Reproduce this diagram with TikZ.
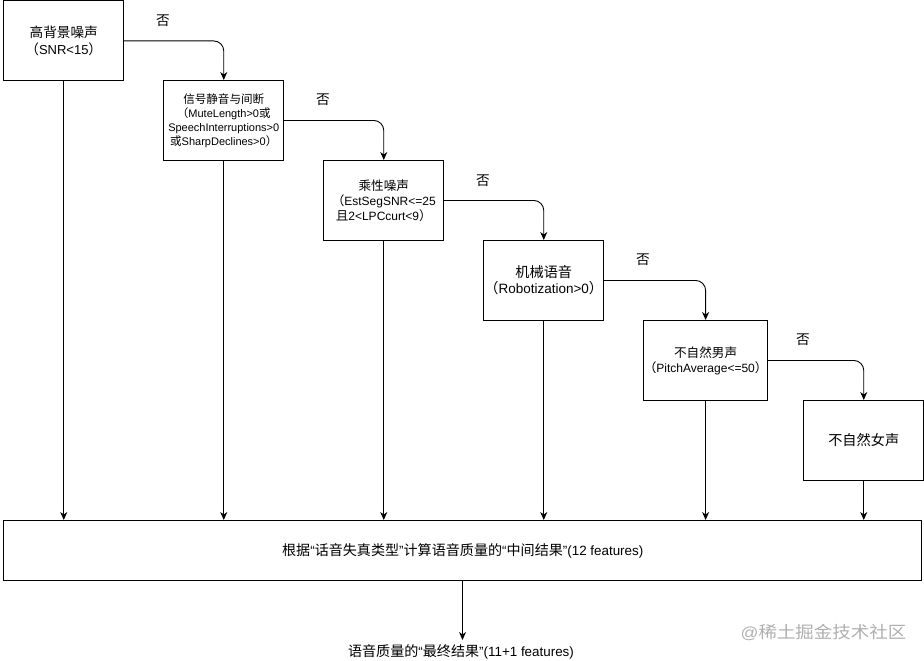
\documentclass[tikz,border=0pt]{standalone}
\usepackage{fontspec}
\setmainfont{Liberation Sans}
\newfontfamily\cjk[Scale=1.05]{Noto Sans CJK SC}
\newcommand\zh[1]{{\cjk #1}}
\usetikzlibrary{arrows.meta}
\definecolor{wmgray}{RGB}{175,175,175}
\tikzset{
  box/.style={draw=black, line width=0.9pt, minimum width=120pt, minimum height=80pt, inner sep=0pt, align=center, anchor=north west},
  arr/.style={draw=black, line width=0.9pt, -{Stealth[length=8pt,width=7pt,inset=2.5pt]}},
  noarr/.style={arr, rounded corners=10pt},
  nolbl/.style={font=\fontsize{13}{15}\selectfont, inner sep=0pt}
}
\begin{document}
\begin{tikzpicture}[x=1pt,y=-1pt]
\useasboundingbox (0,0) rectangle (924,661);
% boxes
\node[box, font=\fontsize{13}{17}\selectfont] (b1) at (3.3,0.5) {\zh{高背景噪声}\\\zh{（}SNR<15\zh{）}};
\node[box, font=\fontsize{11}{14}\selectfont] (b2) at (163.3,80) {\zh{信号静音与间断}\\\zh{（}MuteLength>0\zh{或}\\SpeechInterruptions>0\\\zh{或}SharpDeclines>0\zh{）}};
\node[box, font=\fontsize{12}{15}\selectfont] (b3) at (323.3,160) {\zh{乘性噪声}\\\zh{（}EstSegSNR<=25\\\zh{且}2<LPCcurt<9\zh{）}};
\node[box, font=\fontsize{13.5}{16}\selectfont] (b4) at (483.3,240) {\zh{机械语音}\\\zh{（}Robotization>0\zh{）}};
\node[box, font=\fontsize{12}{15}\selectfont] (b5) at (643.3,320) {\zh{不自然男声}\\\zh{（}PitchAverage<=50\zh{）}};
\node[box, font=\fontsize{13.5}{16}\selectfont] (b6) at (803.3,400) {\zh{不自然女声}};
\node[box, minimum width=918pt, minimum height=60pt, font=\fontsize{13.4}{16}\selectfont] (bot) at (3.3,520) {\zh{根据}“\zh{话音失真类型}”\zh{计算语音质量的}“\zh{中间结果}”(12 features)};
\node[font=\fontsize{13.4}{16}\selectfont, inner sep=0pt] (fin) at (461,652) {\zh{语音质量的}“\zh{最终结果}”(11+1 features)};
\node[font=\fontsize{16}{18}\selectfont, text=wmgray, inner sep=0pt, xscale=1.1, transform shape] (wm) at (823.5,632) {@\zh{稀土掘金技术社区}};
% "no" connectors
\draw[noarr] (b1.east) -| (b2.north);
\draw[noarr] (b2.east) -| (b3.north);
\draw[noarr] (b3.east) -| (b4.north);
\draw[noarr] (b4.east) -| (b5.north);
\draw[noarr] (b5.east) -| (b6.north);
\node[nolbl] (n1) at (163,21) {\zh{否}};
\node[nolbl] (n2) at (323,100) {\zh{否}};
\node[nolbl] (n3) at (483,181) {\zh{否}};
\node[nolbl] (n4) at (643,260) {\zh{否}};
\node[nolbl] (n5) at (803,340) {\zh{否}};
% down connectors
\coordinate (t1) at (b1.south |- bot.north);
\coordinate (t2) at (b2.south |- bot.north);
\coordinate (t3) at (b3.south |- bot.north);
\coordinate (t4) at (b4.south |- bot.north);
\coordinate (t5) at (b5.south |- bot.north);
\coordinate (t6) at (b6.south |- bot.north);
\draw[arr] (b1.south) -- (t1);
\draw[arr] (b2.south) -- (t2);
\draw[arr] (b3.south) -- (t3);
\draw[arr] (b4.south) -- (t4);
\draw[arr] (b5.south) -- (t5);
\draw[arr] (b6.south) -- (t6);
\coordinate (fintop) at (462.5,640);
\draw[arr] (bot.south -| fintop) -- (fintop);
\end{tikzpicture}
\end{document}
